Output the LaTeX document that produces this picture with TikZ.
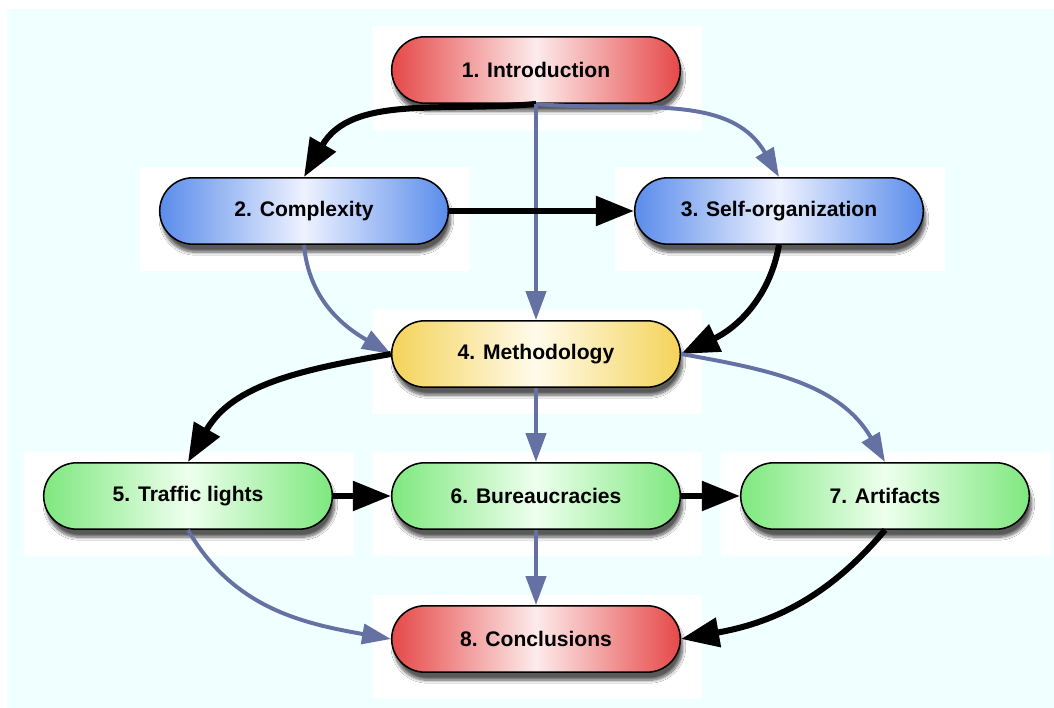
\documentclass[tikz,border=0pt]{standalone}
\usepackage{fontspec}
\setmainfont{Liberation Sans}
\usetikzlibrary{shapes.misc, arrows.meta, shadows.blur}

% ============================
% COLOR DEFINITIONS
% ============================
\definecolor{colBack}{HTML}{F0FFFF}     % cyan very light
\definecolor{colRed}{HTML}{E64848}      % red
\definecolor{colRedMid}{HTML}{FDEBEB}
\definecolor{colBlue}{HTML}{5A8CEB}     % blue
\definecolor{colBlueMid}{HTML}{EEF2FF}
\definecolor{colYellow}{HTML}{F4D35A}   % yellow
\definecolor{colYellowMid}{HTML}{FFFBEA}
\definecolor{colGreen}{HTML}{7EE87E}    % green
\definecolor{colGreenMid}{HTML}{EEFFEE}
\definecolor{colLink}{HTML}{6571A3}     % grey blue

\begin{document}
\begin{tikzpicture}[
    stage/.style={
        rounded rectangle, draw, line width=1.1pt,
        minimum width=7.45cm, minimum height=1.66cm,
        font=\fontsize{15}{18}\selectfont\bfseries,
        blur shadow={shadow xshift=0.06cm, shadow yshift=-0.2cm,
                     shadow opacity=65, shadow blur steps=10}
    },
    redstage/.style={stage, left color=colRed, right color=colRed, middle color=colRedMid},
    bluestage/.style={stage, left color=colBlue, right color=colBlue, middle color=colBlueMid},
    yellowstage/.style={stage, left color=colYellow, right color=colYellow, middle color=colYellowMid},
    greenstage/.style={stage, left color=colGreen, right color=colGreen, middle color=colGreenMid},
    main/.style={line width=4.3pt, -{Triangle[length=0.95cm, width=0.72cm]}},
    side/.style={line width=2.8pt, draw=colLink, -{Triangle[length=0.72cm, width=0.5cm]}}
]

\useasboundingbox (0,0) rectangle (26.35,17.7);

% --- background ---
\fill[colBack] (0.175,0) rectangle (26.35,17.475);

% --- white panels behind each stage ---
\foreach \cx/\cy in {13.4/15.95, 7.6/12.425, 19.475/12.425, 13.4/8.85,
                     4.7/5.3, 13.4/5.3, 22.125/5.3, 13.4/1.725}
    \fill[white] (\cx-4.1,\cy+1.1) rectangle (\cx+4.15,\cy-1.5);

% ============================
% STAGES
% ============================
\node[redstage]    (intro)    at (13.4, 15.95)   {1. Introduction};
\node[bluestage]   (complex)  at (7.6, 12.425)   {2. Complexity};
\node[bluestage]   (selforg)  at (19.475, 12.425) {3. Self-organization};
\node[yellowstage] (method)   at (13.4, 8.85)    {4. Methodology};
\node[greenstage]  (traffic)  at (4.7, 5.3)      {5. Traffic lights};
\node[greenstage]  (bureau)   at (13.4, 5.3)     {6. Bureaucracies};
\node[greenstage]  (artifact) at (22.125, 5.3)   {7. Artifacts};
\node[redstage]    (concl)    at (13.4, 1.725)   {8. Conclusions};

% ============================
% LINKS
% ============================
\draw[main] (intro.south) to[out=185, in=60] (complex.north);
\draw[side] (intro.south) to[out=-5, in=120] (selforg.north);
\draw[side] (intro.south) -- (method.north);
\draw[main] (complex.east) -- (selforg.west);
\draw[side] (complex.south) to[out=-85, in=150] (method.west);
\draw[main] (selforg.south) to[out=-100, in=25] (method.east);
\draw[main] (method.west) to[out=190, in=60] (traffic.north);
\draw[side] (method.south) -- (bureau.north);
\draw[side] (method.east) to[out=-10, in=120] (artifact.north);
\draw[main] (traffic.east) -- (bureau.west);
\draw[main] (bureau.east) -- (artifact.west);
\draw[side] (traffic.south) to[out=-60, in=170] (concl.west);
\draw[side] (bureau.south) -- (concl.north);
\draw[main] (artifact.south) to[out=-130, in=10] (concl.east);

\end{tikzpicture}
\end{document}
